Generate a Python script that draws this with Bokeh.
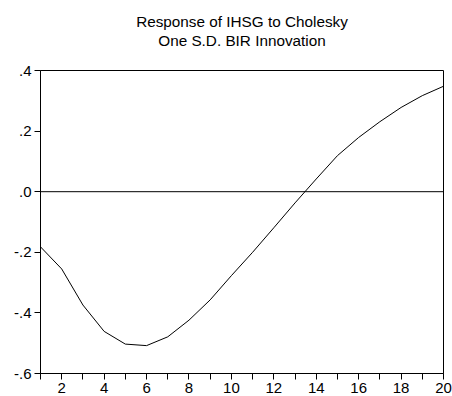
from bokeh.plotting import figure
from bokeh.models import FixedTicker, Span, Range1d, Title
from bokeh.embed import file_html
from bokeh.resources import INLINE

periods = list(range(1, 21))
response = [-0.182, -0.255, -0.374, -0.461, -0.503, -0.508, -0.479, -0.424, -0.357,
            -0.277, -0.200, -0.119, -0.037, 0.042, 0.119, 0.179, 0.231, 0.278, 0.317, 0.348]
y_ticks = [0.4, 0.2, 0.0, -0.2, -0.4, -0.6]
y_tick_labels = [".4", ".2", ".0", "-.2", "-.4", "-.6"]
title_lines = ["Response of IHSG to Cholesky", "One S.D. BIR Innovation"]

FONT = "Liberation Sans"

p = figure(width=452, height=396, output_backend="svg", toolbar_location=None,
           x_range=Range1d(1, 20), y_range=Range1d(-0.6, 0.4),
           min_border_left=40, min_border_right=9, min_border_top=70, min_border_bottom=23)
p.background_fill_color = "white"
p.border_fill_color = "white"
p.outline_line_color = "black"
p.outline_line_width = 1
p.grid.visible = False

p.line(periods, response, line_color="black", line_width=1)
p.add_layout(Span(location=0, dimension="width", line_color="black", line_width=1))

# axes
p.xaxis.ticker = FixedTicker(ticks=periods)
p.xaxis.major_label_overrides = {i: (str(i) if i % 2 == 0 else "") for i in periods}
p.yaxis.ticker = FixedTicker(ticks=y_ticks)
p.yaxis.major_label_overrides = {t: l for t, l in zip(y_ticks, y_tick_labels)}
for ax in (p.xaxis, p.yaxis):
    ax.axis_line_color = "black"
    ax.major_tick_line_color = "black"
    ax.major_tick_out = 6
    ax.major_tick_in = 0
    ax.minor_tick_line_color = None
    ax.major_label_text_font = FONT
    ax.major_label_text_font_size = "15px"
    ax.major_label_text_color = "black"
p.xaxis.major_label_standoff = 3
p.yaxis.major_label_standoff = 3

# title as two centered lines (first added sits closest to the frame)
sub = Title(text=title_lines[1], align="center", text_font=FONT,
            text_font_size="15.3px", text_font_style="normal", text_color="black", standoff=44)
main = Title(text=title_lines[0], align="center", text_font=FONT,
             text_font_size="15.3px", text_font_style="normal", text_color="black", standoff=-44)
p.add_layout(sub, "above")
p.add_layout(main, "above")

open("out.html", "w").write(file_html(p, INLINE))
